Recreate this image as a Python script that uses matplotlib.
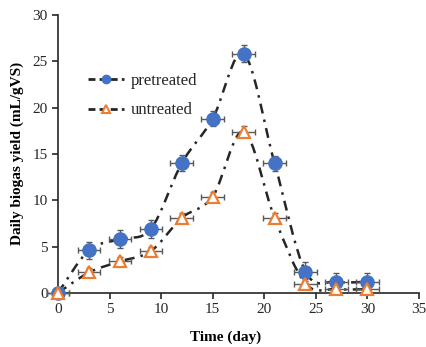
import numpy as np
import matplotlib
matplotlib.use("Agg")
import matplotlib.pyplot as plt
from matplotlib.path import Path
from matplotlib.patches import PathPatch
from matplotlib.lines import Line2D

# Datos
dias = [0, 3, 6, 9, 12, 15, 18, 21, 24, 27, 30]
pretratado = [0.0, 4.6, 5.8, 6.9, 14.0, 18.8, 25.8, 14.0, 2.3, 1.2, 1.2]
pretratado_err = [0.3, 0.9, 1.0, 1.0, 0.9, 0.8, 0.9, 0.8, 1.0, 0.9, 0.9]
sin_tratar = [0.0, 2.2, 3.4, 4.5, 8.1, 10.4, 17.4, 8.1, 1.0, 0.4, 0.4]
sin_tratar_err = [0.2, 0.5, 0.5, 0.5, 0.5, 0.5, 0.6, 0.5, 0.5, 0.4, 0.4]
dias_err = 1.1

plt.rcParams['font.family'] = ['Liberation Serif', 'DejaVu Serif']

azul = '#4472C4'
naranja = '#ED7D31'
gris = '#595959'


# Curva suavizada tipo Excel (Catmull-Rom convertida a Bezier)
def curva_suave(x, y, tension=1/6):
    x = np.asarray(x, float)
    y = np.asarray(y, float)
    verts = [(x[0], y[0])]
    codes = [Path.MOVETO]
    n = len(x)
    for i in range(n - 1):
        x0, y0 = (x[i - 1], y[i - 1]) if i > 0 else (x[i], y[i])
        x3, y3 = (x[i + 2], y[i + 2]) if i + 2 < n else (x[i + 1], y[i + 1])
        c1 = (x[i] + (x[i + 1] - x0) * tension, y[i] + (y[i + 1] - y0) * tension)
        c2 = (x[i + 1] - (x3 - x[i]) * tension, y[i + 1] - (y3 - y[i]) * tension)
        verts += [c1, c2, (x[i + 1], y[i + 1])]
        codes += [Path.CURVE4] * 3
    return Path(verts, codes)


fig = plt.figure(figsize=(4.27, 3.47), dpi=100)
ax = fig.add_axes([0.136, 0.156, 0.845, 0.801])

estilo_linea = (0, (4, 2.5, 1, 2.5))
for serie in (pretratado, sin_tratar):
    ax.add_patch(PathPatch(curva_suave(dias, serie), fill=False, edgecolor='#262626',
                           linewidth=1.8, linestyle=estilo_linea, zorder=2))

ax.errorbar(dias, pretratado, yerr=pretratado_err, xerr=dias_err, fmt='none',
            ecolor=gris, elinewidth=1, capsize=2.5, zorder=3, clip_on=False)
ax.errorbar(dias, sin_tratar, yerr=sin_tratar_err, xerr=dias_err, fmt='none',
            ecolor=gris, elinewidth=1, capsize=2.5, zorder=3, clip_on=False)
ax.plot(dias, pretratado, 'o', color=azul, markersize=9.5, linestyle='none',
        zorder=4, clip_on=False)
ax.plot(dias, sin_tratar, '^', markerfacecolor='white', markeredgecolor=naranja,
        markeredgewidth=1.6, markersize=8, linestyle='none', zorder=5, clip_on=False)

ax.set_xlim(0, 35)
ax.set_ylim(0, 30)
ax.set_xticks(range(0, 36, 5))
ax.set_yticks(range(0, 31, 5))
for s in ('top', 'right'):
    ax.spines[s].set_visible(False)
for s in ('left', 'bottom'):
    ax.spines[s].set_linewidth(1.2)
    ax.spines[s].set_color('#262626')
ax.tick_params(direction='out', length=4, width=1.2, labelsize=11, colors='#262626')

ax.set_xlabel('Time (day)', fontsize=11, fontweight='bold')
ax.xaxis.set_label_coords(0.463, -0.135)
ax.set_ylabel('Daily biogas yield (mL/gVS)', fontsize=11, fontweight='bold', labelpad=6)

handles = [
    Line2D([0], [0], color='#262626', linestyle=(0, (2.5, 1.5)), linewidth=2,
           marker='o', markersize=6, markerfacecolor=azul, markeredgecolor=azul),
    Line2D([0], [0], color='#262626', linestyle=(0, (2.5, 1.5)), linewidth=2,
           marker='^', markersize=5.5, markerfacecolor='white', markeredgecolor=naranja,
           markeredgewidth=1.5),
]
ax.legend(handles, ['pretreated', 'untreated'], loc='upper left',
          bbox_to_anchor=(0.04, 0.845), frameon=False,
          prop={'size': 12}, handlelength=2.2, handletextpad=0.4, labelspacing=0.8,
          labelcolor='#262626')

fig.savefig('out.png', dpi=100)
